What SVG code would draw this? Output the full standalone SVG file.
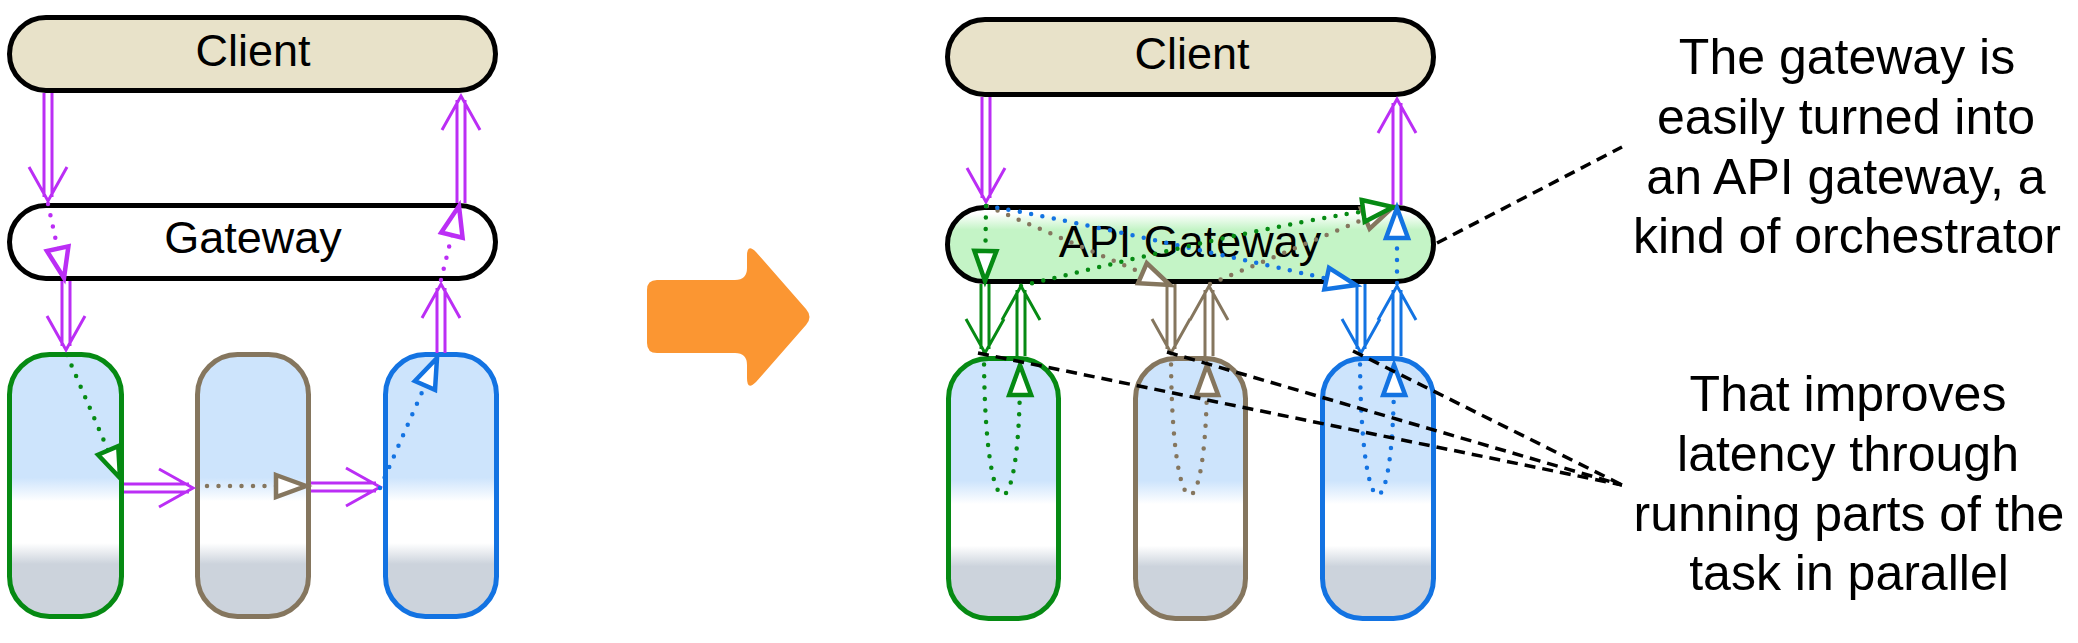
<svg xmlns="http://www.w3.org/2000/svg" width="2078" height="643" viewBox="0 0 2078 643">
<defs>
<linearGradient id="svcFill" x1="0" y1="0" x2="0" y2="1">
<stop offset="0" stop-color="#cde4fc"/>
<stop offset="0.47" stop-color="#cde4fc"/>
<stop offset="0.56" stop-color="#ffffff"/>
<stop offset="0.72" stop-color="#ffffff"/>
<stop offset="0.8" stop-color="#ccd3dc"/>
<stop offset="1" stop-color="#ccd3dc"/>
</linearGradient>
<linearGradient id="gwFill" x1="0" y1="0" x2="0" y2="1">
<stop offset="0" stop-color="#ffffff"/>
<stop offset="0.08" stop-color="#ffffff"/>
<stop offset="0.3" stop-color="#c4f4c6"/>
<stop offset="1" stop-color="#c4f4c6"/>
</linearGradient>
<marker id="mP" viewBox="-4 -15 40 30" markerWidth="40" markerHeight="30" refX="30" refY="0" orient="auto" markerUnits="userSpaceOnUse" overflow="visible"><path class="tri" d="M0,-11L30,0L0,11Z" stroke="#bb2ef5"/></marker>
<marker id="mG" viewBox="-4 -15 40 30" markerWidth="40" markerHeight="30" refX="30" refY="0" orient="auto" markerUnits="userSpaceOnUse" overflow="visible"><path class="tri" d="M0,-11L30,0L0,11Z" stroke="#068a13"/></marker>
<marker id="mB" viewBox="-4 -15 40 30" markerWidth="40" markerHeight="30" refX="30" refY="0" orient="auto" markerUnits="userSpaceOnUse" overflow="visible"><path class="tri" d="M0,-11L30,0L0,11Z" stroke="#85765e"/></marker>
<marker id="mU" viewBox="-4 -15 40 30" markerWidth="40" markerHeight="30" refX="30" refY="0" orient="auto" markerUnits="userSpaceOnUse" overflow="visible"><path class="tri" d="M0,-11L30,0L0,11Z" stroke="#1373e2"/></marker>
</defs>
<style>
.box{stroke:#000;stroke-width:5}
.client{fill:#e8e2c9}
.svc{fill:url(#svcFill);stroke-width:5}
.lbl{font-family:"Liberation Sans",Arial,sans-serif;font-size:45px;fill:#000;text-anchor:middle}
.note{font-family:"Liberation Sans",Arial,sans-serif;font-size:50px;fill:#000;text-anchor:middle}
.dbl{fill:none;stroke-width:3}
.dot{fill:none;stroke-width:4.5;stroke-dasharray:0 11.5;stroke-linecap:round}
.tri{fill:#fff;stroke-width:4.5;stroke-dasharray:none}
.dash{fill:none;stroke:#000;stroke-width:3.5;stroke-dasharray:11 7}
.p{stroke:#bb2ef5}.g{stroke:#068a13}.b{stroke:#85765e}.u{stroke:#1373e2}
</style>
<g id="left-client"><rect class="box client" x="9.5" y="17.5" width="486" height="73" rx="36.5"/><text class="lbl" x="253" y="66">Client</text></g>
<g id="left-gateway"><rect class="box" fill="#fff" x="9.5" y="205.5" width="486" height="73" rx="36.5"/><text class="lbl" x="253" y="253">Gateway</text></g>
<g id="left-svc-green"><rect class="svc g" x="9.5" y="354.5" width="112" height="262" rx="40"/></g>
<g id="left-svc-brown"><rect class="svc b" x="197.5" y="354.5" width="111" height="262" rx="40"/></g>
<g id="left-svc-blue"><rect class="svc u" x="385.5" y="354.5" width="111" height="262" rx="40"/></g>
<g id="transform-arrow"><path fill="#fb9632" d="M657,280L735,280Q747,280 747,268L747,256Q747,243 756,252L806,309Q813,317 806,325L756,382Q747,391 747,378L747,365Q747,353 735,353L657,353Q647,353 647,343L647,290Q647,280 657,280Z"/></g>
<g id="right-client"><rect class="box client" x="947.5" y="19.5" width="486" height="75" rx="37.5"/><text class="lbl" x="1192" y="69">Client</text></g>
<g id="right-gateway"><rect class="box" fill="url(#gwFill)" x="947.5" y="207.5" width="486" height="74" rx="37"/><text class="lbl" x="1190" y="257">API Gateway</text></g>
<g id="right-svc-green"><rect class="svc g" x="948.5" y="358.5" width="110" height="260" rx="40"/></g>
<g id="right-svc-brown"><rect class="svc b" x="1135.5" y="358.5" width="110" height="260" rx="40"/></g>
<g id="right-svc-blue"><rect class="svc u" x="1322.5" y="358.5" width="111" height="260" rx="40"/></g>
<g id="note-orchestrator">
<text class="note" x="1847" y="74">The gateway is</text>
<text class="note" x="1846" y="134">easily turned into</text>
<text class="note" x="1846" y="194">an API gateway, a</text>
<text class="note" x="1847" y="253">kind of orchestrator</text>
</g>
<g id="note-latency">
<text class="note" x="1848" y="411">That improves</text>
<text class="note" x="1848" y="471">latency through</text>
<text class="note" x="1849" y="531">running parts of the</text>
<text class="note" x="1849" y="590">task in parallel</text>
</g>
<g id="connectors">
<path class="dbl p" d="M44,93V197M52,93V197M29,167L48,201L67,167"/>
<path class="dbl p" d="M457,203V100M465,203V100M442,130L461,96L480,130"/>
<path class="dbl p" d="M62,281V346M70,281V346M47,316L66,350L85,316"/>
<path class="dbl p" d="M437,353V288M445,353V288M422,318L441,284L460,318"/>
<path class="dbl p" d="M124,484H189M124,492H189M159,469L193,488L159,507"/>
<path class="dbl p" d="M311,483H376M311,491H376M346,468L380,487L346,506"/>
<path class="dot p" d="M48,204L64,278" marker-end="url(#mP)"/>
<path class="dot p" d="M441,280L459,206" marker-end="url(#mP)"/>
<path class="dot g" d="M67,355L120,478" marker-end="url(#mG)"/>
<path class="dot b" d="M207,486L306,486" marker-end="url(#mB)"/>
<path class="dot u" d="M380,488L437,358" marker-end="url(#mU)"/>
<path class="dbl p" d="M982,97V198M990,97V198M967,168L986,202L1005,168"/>
<path class="dbl p" d="M1393,205V103M1401,205V103M1378,133L1397,99L1416,133"/>
<path class="dbl g" d="M981,284V349M989,284V349M966,319L985,353L1004,319"/>
<path class="dbl g" d="M1017,356V290M1025,356V290M1002,320L1021,286L1040,320"/>
<path class="dbl b" d="M1167,284V349M1175,284V349M1152,319L1171,353L1190,319"/>
<path class="dbl b" d="M1205,356V290M1213,356V290M1190,320L1209,286L1228,320"/>
<path class="dbl u" d="M1357,284V349M1365,284V349M1342,319L1361,353L1380,319"/>
<path class="dbl u" d="M1393,356V290M1401,356V290M1378,320L1397,286L1416,320"/>
<path class="dot b" d="M987,206L1170,285" marker-end="url(#mB)"/>
<path class="dot b" d="M1210,284L1393,207" marker-end="url(#mB)"/>
<path class="dot u" d="M986,206C1050,215 1250,262 1356,285" marker-end="url(#mU)"/>
<path class="dot g" d="M986,206L985,281" marker-end="url(#mG)"/>
<path class="dot g" d="M1021,286C1120,262 1280,222 1393,207" marker-end="url(#mG)"/>
<path class="dot u" d="M1397,283L1397,208" marker-end="url(#mU)"/>
<path class="dot g" d="M984,353C984,540 1021,540 1020,365" marker-end="url(#mG)"/>
<path class="dot b" d="M1171,353C1171,540 1208,540 1207,365" marker-end="url(#mB)"/>
<path class="dot u" d="M1360,353C1360,540 1395,540 1394,365" marker-end="url(#mU)"/>
<path class="dash" d="M1437,243L1622,147"/>
<path class="dash" d="M978,353L1622,485"/>
<path class="dash" d="M1167,352L1622,485"/>
<path class="dash" d="M1353,351L1622,485"/>
</g>
</svg>
